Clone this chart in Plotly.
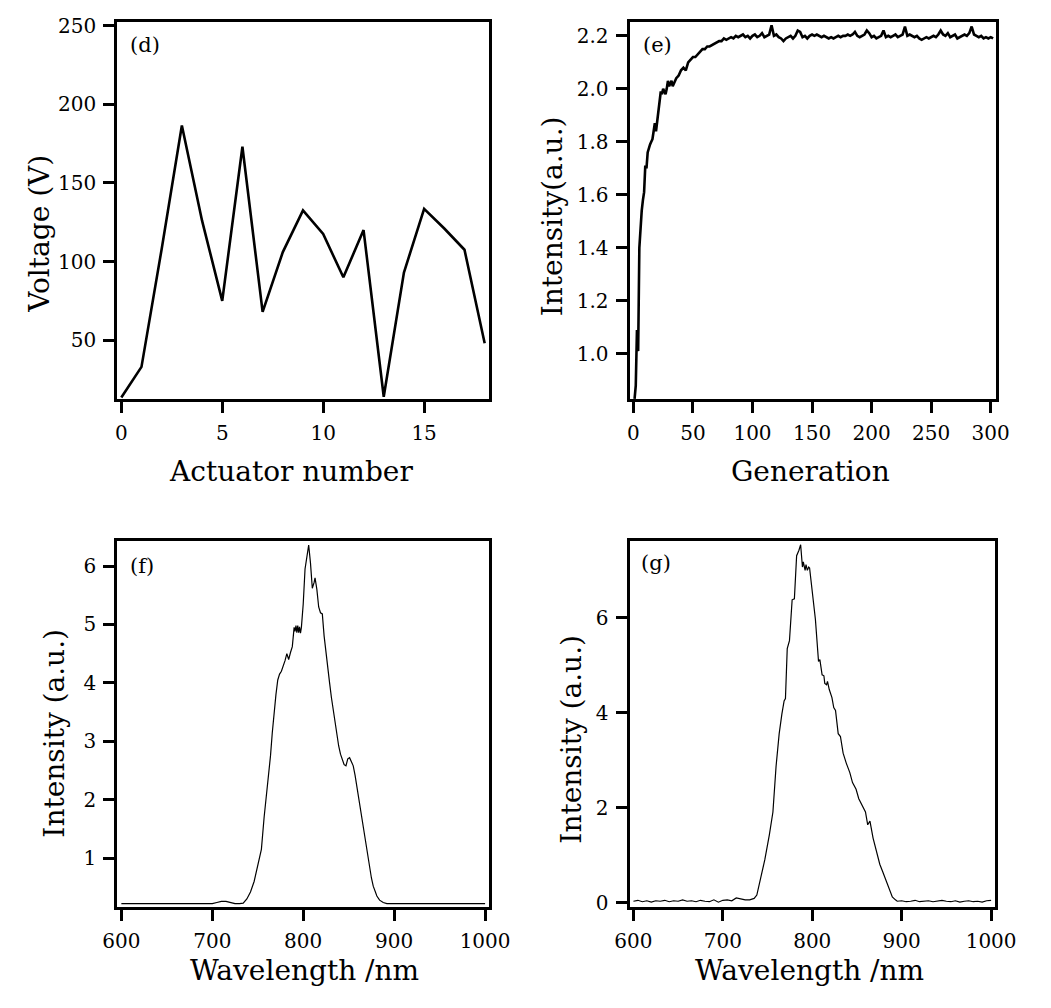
import plotly.graph_objects as go

# ---------------- data ----------------
# (d) actuator voltages
actuator = list(range(0, 19))
voltage = [13.5, 33, 108, 186.5, 126, 75, 173, 68, 106, 132.5, 117.5, 90, 120, 14, 93, 133.5, 121, 107.5, 48]

# (e) intensity versus generation
gen_rise = list(range(1, 37)) + list(range(38, 81, 2))
int_rise = [0.83, 0.88, 1.09, 1.01, 1.40, 1.48, 1.54, 1.58, 1.61, 1.71, 1.70, 1.76, 1.78, 1.79, 1.80, 1.81,
            1.84, 1.87, 1.84, 1.88, 1.92, 1.96, 1.99, 1.98, 2.00, 1.99, 1.98, 2.00, 2.03, 2.01, 2.02, 2.03,
            2.01, 2.02, 2.03, 2.04,
            2.05, 2.07, 2.08, 2.07, 2.10, 2.11, 2.12, 2.12, 2.13, 2.14, 2.15, 2.15, 2.16, 2.16, 2.165, 2.17,
            2.175, 2.18, 2.18, 2.19, 2.185, 2.19]
int_plateau = [2.195, 2.19, 2.20, 2.195, 2.20, 2.205, 2.195, 2.20, 2.19, 2.20, 2.205, 2.195, 2.20, 2.21, 2.195,
               2.20, 2.205, 2.24, 2.20, 2.205, 2.195, 2.19, 2.18, 2.19, 2.195, 2.20, 2.19, 2.20, 2.22, 2.215,
               2.195, 2.20, 2.19, 2.20, 2.205, 2.20, 2.205, 2.20, 2.195, 2.20, 2.195, 2.19, 2.195, 2.19, 2.195,
               2.20, 2.195, 2.20, 2.20, 2.205, 2.20, 2.205, 2.215, 2.20, 2.195, 2.20, 2.205, 2.22, 2.21, 2.195,
               2.20, 2.19, 2.195, 2.20, 2.22, 2.195, 2.20, 2.195, 2.20, 2.205, 2.195, 2.20, 2.205, 2.235, 2.20,
               2.205, 2.20, 2.195, 2.20, 2.19, 2.185, 2.19, 2.195, 2.19, 2.195, 2.20, 2.195, 2.205, 2.22, 2.205,
               2.20, 2.21, 2.195, 2.20, 2.205, 2.19, 2.195, 2.20, 2.205, 2.20, 2.21, 2.235, 2.205, 2.20, 2.195,
               2.20, 2.19, 2.195, 2.19, 2.195, 2.19]
gen_plateau = list(range(82, 82 + 2 * len(int_plateau), 2))
generation = gen_rise + gen_plateau
intensity_e = int_rise + int_plateau

# (f) spectrum
wl_f = [600, 610, 620, 630, 640, 650, 660, 670, 680, 690, 700, 705, 710, 715, 720, 725, 730,
        734, 738, 742, 746, 750, 754, 757, 760, 762, 764, 766, 768, 770, 772, 774, 776, 778, 780,
        782, 784, 786, 788, 790, 791, 792, 793, 794, 795, 796, 797, 798, 800, 802, 804, 806, 808,
        810, 812, 813, 815, 817, 819, 821, 823, 825, 827, 829, 831, 833, 835, 837, 839, 841, 843,
        845, 847, 849, 851, 853, 855, 857, 859, 861, 863, 865, 867, 869, 871, 873, 875, 877, 879,
        881, 884, 888, 892, 900, 920, 940, 960, 980, 1000]
int_f = [0.22, 0.22, 0.21, 0.22, 0.22, 0.22, 0.21, 0.22, 0.22, 0.22, 0.22, 0.24, 0.26, 0.26, 0.24, 0.22, 0.22,
         0.23, 0.30, 0.42, 0.60, 0.85, 1.15, 1.70, 2.15, 2.40, 2.75, 3.15, 3.50, 3.80, 4.05, 4.15, 4.20, 4.28, 4.38,
         4.50, 4.40, 4.52, 4.62, 4.95, 4.88, 4.98, 4.86, 4.98, 4.86, 4.96, 4.85, 4.95, 5.35, 5.95, 6.15, 6.36, 6.05,
         5.62, 5.72, 5.80, 5.60, 5.30, 5.20, 5.18, 4.80, 4.50, 4.20, 4.00, 3.75, 3.52, 3.35, 3.15, 2.92, 2.78, 2.68,
         2.60, 2.58, 2.70, 2.72, 2.65, 2.58, 2.42, 2.22, 2.05, 1.88, 1.65, 1.42, 1.22, 1.02, 0.82, 0.66, 0.52, 0.43,
         0.35, 0.28, 0.24, 0.22, 0.22, 0.22, 0.21, 0.22, 0.22, 0.22]

# (g) spectrum
wl_g = [600, 605, 610, 615, 620, 625, 630, 635, 640, 645, 650, 655, 660, 665, 670, 675, 680, 685, 690, 695,
        700, 705, 710, 715, 720, 725, 730, 735,
        738, 742, 747, 752, 756, 759.5, 763, 766, 768.5, 770, 772, 774.5, 777.5, 780, 782.5, 785, 787,
        789, 790, 792, 793, 794.5, 796, 797, 801, 803.5, 807, 808.5, 811, 813, 814, 816, 817, 819, 822,
        824, 826, 829, 831.5, 834.5, 838, 842, 845, 849, 852, 856, 859.5, 862, 864.5, 868, 872, 875.5,
        879, 882.5, 886, 889.5, 893,
        895, 900, 905, 910, 915, 920, 925, 930, 935, 940, 945, 950, 955, 960, 965, 970, 975, 980, 985,
        990, 995, 1000]
int_g = [0.03, 0.05, 0.02, 0.04, 0.01, 0.04, 0.03, 0.05, 0.02, 0.04, 0.03, 0.06, 0.03, 0.04, 0.02, 0.05,
         0.03, 0.02, 0.06, 0.01, 0.05, 0.06, 0.04, 0.10, 0.08, 0.06, 0.06, 0.09,
         0.16, 0.47, 0.91, 1.43, 1.91, 2.87, 3.56, 3.97, 4.25, 4.30, 5.35, 5.52, 6.38, 6.40, 7.31, 7.42, 7.54,
         7.07, 7.18, 7.00, 7.12, 7.00, 7.07, 7.05, 6.35, 5.97, 5.08, 5.12, 4.80, 4.78, 4.62, 4.59, 4.66, 4.49,
         4.32, 4.11, 4.05, 3.56, 3.50, 3.15, 2.94, 2.74, 2.53, 2.39, 2.19, 2.05, 1.91, 1.64, 1.72, 1.36, 1.09,
         0.81, 0.64, 0.47, 0.30, 0.12, 0.06,
         0.03, 0.04, 0.02, 0.03, 0.05, 0.02, 0.03, 0.04, 0.02, 0.03, 0.05, 0.03, 0.02, 0.04, 0.01, 0.03,
         0.04, 0.02, 0.03, 0.01, 0.04, 0.05]

# axis titles and panel labels
x_titles = ["Actuator number", "Generation", "Wavelength /nm", "Wavelength /nm"]
y_titles = ["Voltage (V)", "Intensity(a.u.)", "Intensity (a.u.)", "Intensity (a.u.)"]
panel_labels = ["(d)", "(e)", "(f)", "(g)"]

# ---------------- figure ----------------
W, H = 1051, 1008
FONT = "DejaVu Serif"

fig = go.Figure()
fig.add_trace(go.Scatter(x=actuator, y=voltage, mode="lines", line=dict(color="black", width=2.6),
                         xaxis="x", yaxis="y", showlegend=False))
fig.add_trace(go.Scatter(x=generation, y=intensity_e, mode="lines", line=dict(color="black", width=2.6),
                         xaxis="x2", yaxis="y2", showlegend=False))
fig.add_trace(go.Scatter(x=wl_f, y=int_f, mode="lines", line=dict(color="black", width=1.2),
                         xaxis="x3", yaxis="y3", showlegend=False))
fig.add_trace(go.Scatter(x=wl_g, y=int_g, mode="lines", line=dict(color="black", width=1.2),
                         xaxis="x4", yaxis="y4", showlegend=False))


def ax(domain, rng, anchor, **kw):
    d = dict(domain=domain, range=rng, anchor=anchor, showline=True, linewidth=3, linecolor="black",
             mirror=True, ticks="outside", ticklen=11, tickwidth=3, tickcolor="black", showgrid=False,
             zeroline=False, tickfont=dict(family=FONT, size=20, color="black"), ticklabelstandoff=3)
    d.update(kw)
    return d


def hx(a, b):
    return [a / W, b / W]


def vy(top, bottom):
    return [1 - bottom / H, 1 - top / H]


fig.update_layout(
    width=W, height=H, margin=dict(l=0, r=0, t=0, b=0),
    paper_bgcolor="white", plot_bgcolor="white",
    xaxis=ax(hx(106, 491), [-0.2, 18.2], "y", dtick=5, tick0=0),
    yaxis=ax(vy(14, 397), [12.5, 252.5], "x", tickvals=[50, 100, 150, 200, 250]),
    xaxis2=ax(hx(637, 1017), [-3.2, 304.6], "y2", dtick=50, tick0=0),
    yaxis2=ax(vy(14, 397), [0.829, 2.253], "x2",
              tickvals=[1.0, 1.2, 1.4, 1.6, 1.8, 2.0, 2.2], tickformat=".1f"),
    xaxis3=ax(hx(106, 491), [595.5, 1004], "y3", dtick=100, tick0=600),
    yaxis3=ax(vy(541, 913), [0.156, 6.43], "x3", tickvals=[1, 2, 3, 4, 5, 6]),
    xaxis4=ax(hx(637, 1016), [595.7, 1004.6], "y4", dtick=100, tick0=600),
    yaxis4=ax(vy(541, 913), [-0.1, 7.62], "x4", tickvals=[0, 2, 4, 6]),
)

# axis titles placed as text (pixel centres)
x_title_pos = [(286, 471), (825, 471), (300, 977), (824, 977)]
y_title_pos = [(26, 229), (557, 211), (40, 736), (577, 742)]
for txt, (px, py) in zip(x_titles, x_title_pos):
    fig.add_annotation(text=txt, x=px / W, y=1 - py / H, xref="paper", yref="paper",
                       xanchor="center", yanchor="middle", showarrow=False,
                       font=dict(family=FONT, size=28, color="black"))
for txt, (px, py) in zip(y_titles, y_title_pos):
    fig.add_annotation(text=txt, x=px / W, y=1 - py / H, xref="paper", yref="paper", textangle=-90,
                       xanchor="center", yanchor="middle", showarrow=False,
                       font=dict(family=FONT, size=28, color="black"))

label_pos = [(117, 38), (649, 38), (117, 566), (647, 563)]
for txt, (px, py) in zip(panel_labels, label_pos):
    fig.add_annotation(text=txt, x=px / W, y=1 - py / H, xref="paper", yref="paper",
                       xanchor="left", yanchor="middle", showarrow=False,
                       font=dict(family=FONT, size=21, color="black"))

fig.write_html("out.html")
